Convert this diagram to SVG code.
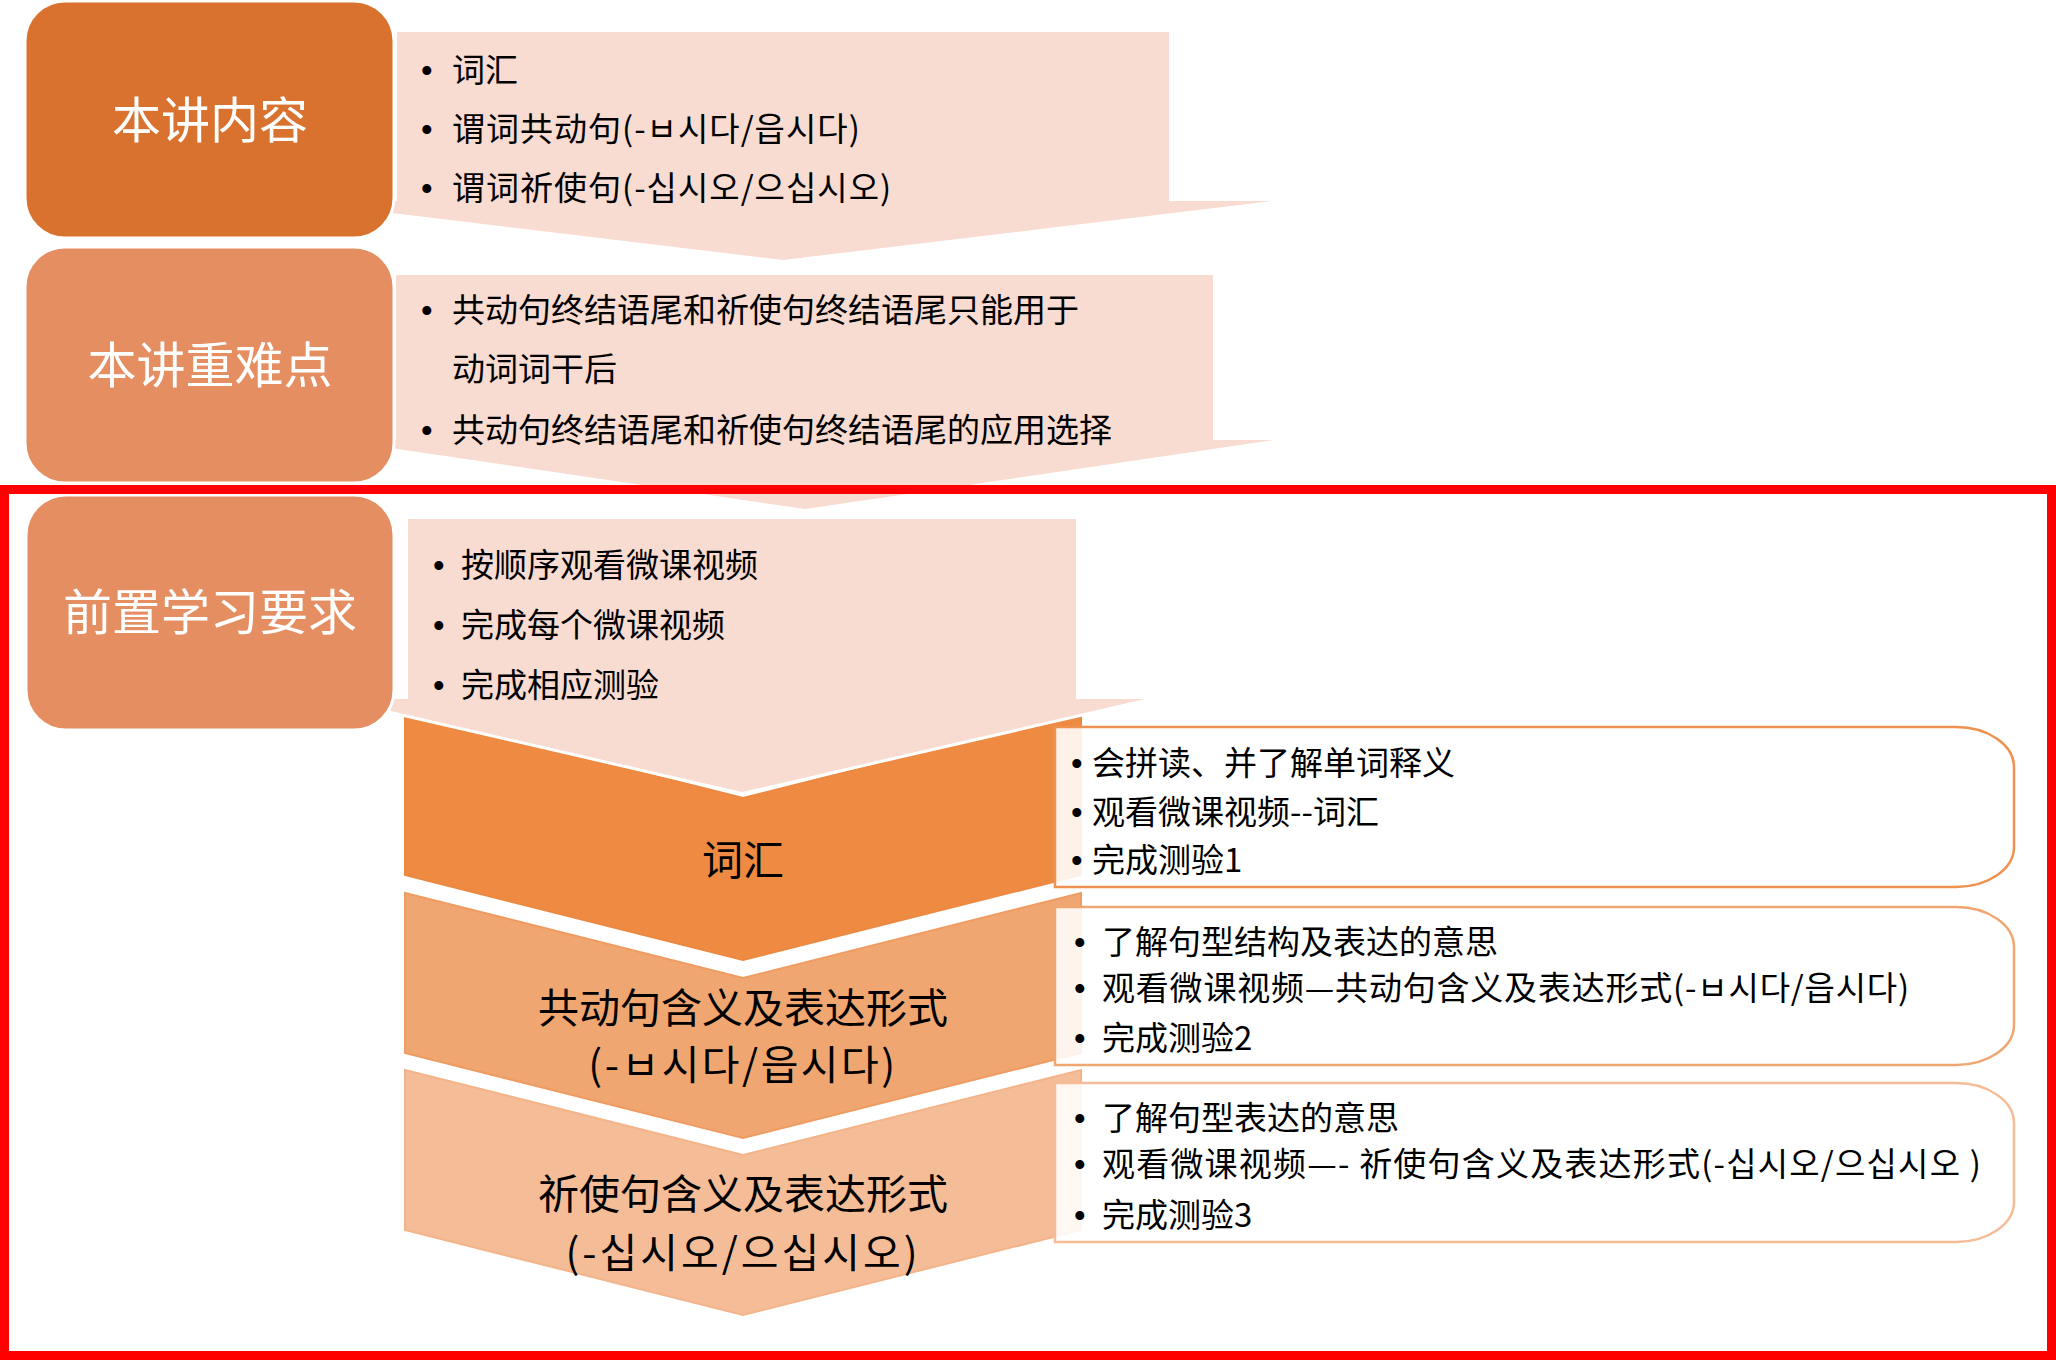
<svg xmlns="http://www.w3.org/2000/svg" width="2056" height="1360" viewBox="0 0 2056 1360">
<style>
text{font-family:"Noto Sans CJK SC","Noto Sans CJK KR","Liberation Sans",sans-serif;}
.hd{fill:#fff;font-size:49px;text-anchor:middle;}
.it{fill:#000;font-size:33px;}
.bl{fill:#000;font-size:33px;font-family:"Liberation Sans",Arial,sans-serif;}
.cv{fill:#000;font-size:41px;text-anchor:middle;}
.arrow{fill:#F8DBD1;stroke:#fff;stroke-width:6;stroke-linejoin:round;paint-order:stroke;}
.box{stroke:#fff;stroke-width:3;}
.info{fill:#fff;fill-opacity:0.88;stroke-width:2.5;}
</style>
<rect width="2056" height="1360" fill="#fff"/>

<g id="chevron-vocab">
<path d="M405,713 L743,798 L1081,713 L1081,875 L743,960 L405,875 Z" fill="#EE8A42" stroke="#EC8840" stroke-width="2"/>
<text class="cv" x="743" y="875">词汇</text>
</g>
<g id="chevron-propositive">
<path d="M405,893 L743,978 L1081,893 L1081,1053 L743,1138 L405,1053 Z" fill="#F0A670" stroke="#EE9C62" stroke-width="2"/>
<text class="cv" x="743" y="1023">共动句含义及表达形式</text>
<text class="cv" x="743" y="1080" letter-spacing="2.5">(-ㅂ시다/읍시다)</text>
</g>
<g id="chevron-imperative">
<path d="M405,1070 L743,1155 L1081,1070 L1081,1230 L743,1315 L405,1230 Z" fill="#F5BD97" stroke="#F3B48A" stroke-width="2"/>
<text class="cv" x="743" y="1209">祈使句含义及表达形式</text>
<text class="cv" x="743" y="1268" letter-spacing="3">(-십시오/으십시오)</text>
</g>

<g id="arrow-content">
<path class="arrow" d="M397,32 H1169 V201 H1272 L783,260 L293,201 H397 Z"/>
<text class="bl" x="421" y="82">•</text><text class="it" x="452" y="82">词汇</text>
<text class="bl" x="421" y="141">•</text><text class="it" x="452" y="141" letter-spacing="1">谓词共动句(-ㅂ시다/읍시다)</text>
<text class="bl" x="421" y="200">•</text><text class="it" x="452" y="200" letter-spacing="1">谓词祈使句(-십시오/으십시오)</text>
</g>
<g id="arrow-key">
<path class="arrow" d="M396,275 H1213 V440 H1274 L805,509 L336,440 H396 Z"/>
<text class="bl" x="421" y="322">•</text><text class="it" x="452" y="322">共动句终结语尾和祈使句终结语尾只能用于</text>
<text class="it" x="452" y="381">动词词干后</text>
<text class="bl" x="421" y="442">•</text><text class="it" x="452" y="442">共动句终结语尾和祈使句终结语尾的应用选择</text>
</g>
<g id="arrow-prestudy">
<path class="arrow" d="M408,519 H1076 V699 H1145 L742,792 L339,699 H408 Z"/>
<text class="bl" x="433" y="577">•</text><text class="it" x="461" y="577">按顺序观看微课视频</text>
<text class="bl" x="433" y="637">•</text><text class="it" x="461" y="637">完成每个微课视频</text>
<text class="bl" x="433" y="697">•</text><text class="it" x="461" y="697">完成相应测验</text>
</g>

<g id="box-content">
<rect class="box" x="25" y="1" width="369" height="237" rx="40" fill="#D9722E"/>
<text class="hd" x="210" y="138">本讲内容</text>
</g>
<g id="box-key">
<rect class="box" x="25" y="247" width="369" height="236" rx="40" fill="#E58E62"/>
<text class="hd" x="210" y="383">本讲重难点</text>
</g>
<g id="box-prestudy">
<rect class="box" x="26" y="495" width="368" height="235" rx="40" fill="#E58E62"/>
<text class="hd" x="210" y="630">前置学习要求</text>
</g>

<g id="info-vocab">
<path class="info" stroke="#EF9250" d="M1055,727 H1956 A58,40 0 0 1 2014,767 V847 A58,40 0 0 1 1956,887 H1055 Z"/>
<text class="bl" x="1071" y="775">•</text><text class="it" x="1092" y="775">会拼读、并了解单词释义</text>
<text class="bl" x="1071" y="824">•</text><text class="it" x="1092" y="824">观看微课视频--词汇</text>
<text class="bl" x="1071" y="872">•</text><text class="it" x="1092" y="872">完成测验1</text>
</g>
<g id="info-propositive">
<path class="info" stroke="#F0A670" d="M1055,907 H1956 A58,40 0 0 1 2014,947 V1025 A58,40 0 0 1 1956,1065 H1055 Z"/>
<text class="bl" x="1074" y="954">•</text><text class="it" x="1102" y="954">了解句型结构及表达的意思</text>
<text class="bl" x="1074" y="1000">•</text><text class="it" x="1102" y="1000" letter-spacing="0.8">观看微课视频—共动句含义及表达形式(-ㅂ시다/읍시다)</text>
<text class="bl" x="1074" y="1050">•</text><text class="it" x="1102" y="1050">完成测验2</text>
</g>
<g id="info-imperative">
<path class="info" stroke="#F5BD97" d="M1055,1083 H1956 A58,40 0 0 1 2014,1123 V1202 A58,40 0 0 1 1956,1242 H1055 Z"/>
<text class="bl" x="1074" y="1130">•</text><text class="it" x="1102" y="1130">了解句型表达的意思</text>
<text class="bl" x="1074" y="1176">•</text><text class="it" x="1102" y="1176" letter-spacing="1.2">观看微课视频—- 祈使句含义及表达形式(-십시오/으십시오 )</text>
<text class="bl" x="1074" y="1227">•</text><text class="it" x="1102" y="1227">完成测验3</text>
</g>

<g id="connectors"></g>

<g id="highlight-frame">
<rect x="4.5" y="489.5" width="2047" height="866" fill="none" stroke="#FF0000" stroke-width="9"/>
</g>
</svg>
